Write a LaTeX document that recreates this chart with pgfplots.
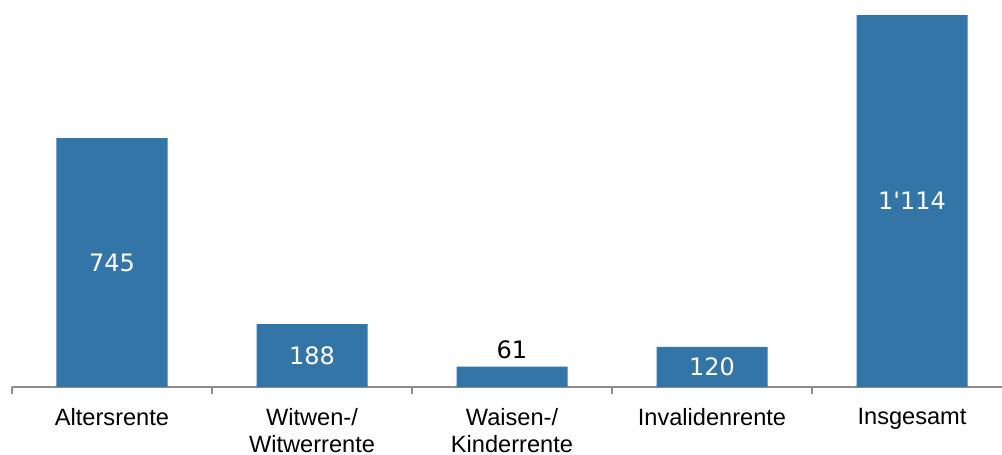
\documentclass[border=0pt]{standalone}
\usepackage{fontspec}
\setmainfont{Liberation Sans}
\newfontfamily\numfont{DejaVu Sans}
\usepackage{pgfplots}
\pgfplotsset{compat=1.18}
\definecolor{barblue}{HTML}{3475A7}
\definecolor{axisgray}{HTML}{8C8C8C}

\begin{document}
\begin{tikzpicture}
  % picture frame: 1 px of the reference = 0.5pt
  \path[use as bounding box] (-6pt,-34pt) rectangle (495pt,193.5pt);
  \begin{axis}[
    at={(0,0)}, anchor=south west,
    scale only axis,
    width=495pt, height=193.5pt,
    xmin=-0.5, xmax=4.45,
    ymin=0, ymax=1159,
    enlargelimits=false,
    axis y line=none,
    axis x line*=bottom,
    axis line style={-, draw=axisgray, line width=0.8pt},
    xtick={0,1,2,3,4},
    xticklabels={Altersrente, {Witwen-/\\Witwerrente}, {Waisen-/\\Kinderrente}, Invalidenrente, Insgesamt},
    major tick length=0pt,
    minor xtick={-0.5,0.5,1.5,2.5,3.5},
    minor tick length=3.5pt,
    tick align=outside,
    tick style={draw=axisgray, line width=0.8pt},
    xticklabel style={align=center, anchor=north, yshift=-7pt,
      font=\fontsize{11.8}{13.5}\selectfont},
    clip=false,
  ]
    \addplot[ybar, bar width=0.555, fill=barblue, draw=none]
      coordinates {(0,745) (1,188) (2,61) (3,120) (4,1114)};
    % value labels inside the bars
    \addplot[only marks, mark=none, point meta=explicit symbolic,
      nodes near coords, nodes near coords align=center,
      every node near coord/.append style={anchor=center, text=white,
        font=\numfont\fontsize{12}{14}\selectfont}]
      coordinates {(0,372.5)[745] (1,94)[188] (3,60)[120] (4,557)[1'114]};
    % value label above the short bar
    \addplot[only marks, mark=none, point meta=explicit symbolic,
      nodes near coords, nodes near coords align=center,
      every node near coord/.append style={anchor=center, text=black,
        font=\numfont\fontsize{12}{14}\selectfont}]
      coordinates {(2,111)[61]};
  \end{axis}
\end{tikzpicture}
\end{document}
